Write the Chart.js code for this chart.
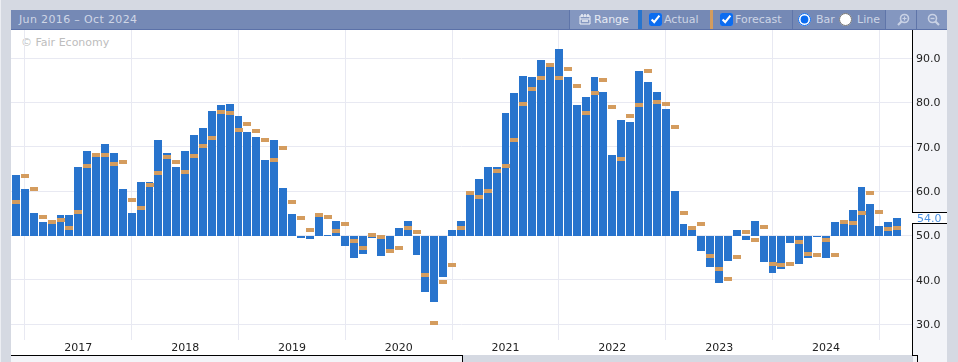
<!DOCTYPE html>
<html>
<head>
<meta charset="utf-8">
<title>Jun 2016 – Oct 2024</title>
<script src="https://cdn.jsdelivr.net/npm/chart.js@4"></script>
<style>
  html, body { margin: 0; padding: 0; }
  body { width: 958px; height: 362px; background: #d5d9e2; overflow: hidden; position: relative;
         font-family: "DejaVu Sans", sans-serif; font-size: 11px; }
  div, span, svg, input, canvas { position: absolute; }
  #edge { left: 0; top: 0; width: 1px; height: 362px; background: #eceef3; }
  #plotbg { left: 11px; top: 30px; width: 901px; height: 325px; background: #fff; }
  #axisbg { left: 913px; top: 30px; width: 34px; height: 332px; background: #f3f4f8; }
  #under { left: 11px; top: 356px; width: 451px; height: 6px; background: #f3f4f8; }
  .black { background: #000; }
  #header { left: 11px; top: 10px; width: 936px; height: 19px; background: #7589b5; border-bottom: 1px solid #5b71a8; }
  #header span { top: 3px; line-height: 14px; color: #cdd5e6; white-space: nowrap; }
  .sep { top: 0; width: 1px; height: 19px; background: #5f75a9; }
  .btn { top: 0; height: 19px; background: #8497c0; }
  #header input { margin: 0; top: 3px; width: 13px; height: 13px; accent-color: #0b6cf0; }
  #watermark { left: 21px; top: 36px; color: #bdbdbd; line-height: 14px; }
  canvas { left: 11px; top: 30px; }
</style>
</head>
<body>
<div id="edge"></div>
<div id="plotbg"></div>
<div id="axisbg"></div>
<div id="under"></div>
<div class="black" style="left:912px;top:30px;width:1px;height:326px"></div>
<div class="black" style="left:11px;top:355px;width:452px;height:1px"></div>
<div class="black" style="left:462px;top:355px;width:1px;height:7px"></div>
<div class="black" style="left:912px;top:355px;width:6px;height:1px"></div>
<div class="black" style="left:917px;top:355px;width:1px;height:7px"></div>
<div id="watermark">© Fair Economy</div>

<div id="header">
  <span style="left:8px;color:#cfd6e6;letter-spacing:.35px">Jun 2016 – Oct 2024</span>
  <div class="btn" style="left:558px;width:69px"></div>
  <div class="sep" style="left:558px"></div>
  <svg style="left:568px;top:3px" width="12" height="12" viewBox="0 0 12 12">
    <path d="M1 3h10v8H1z M1 6h10" fill="none" stroke="#eef1f7" stroke-width="1"/>
    <path d="M3 1v3 M6 1v3 M9 1v3" stroke="#eef1f7" stroke-width="1.4"/>
    <path d="M3 8h6" stroke="#eef1f7" stroke-width="1.5"/>
  </svg>
  <span style="left:583px;color:#e6eaf3">Range</span>
  <div style="left:627px;top:0;width:4px;height:19px;background:#2874cd"></div>
  <input type="checkbox" checked style="left:638px">
  <span style="left:653px">Actual</span>
  <div style="left:699px;top:0;width:3px;height:19px;background:#d49c5e"></div>
  <input type="checkbox" checked style="left:709px">
  <span style="left:724px">Forecast</span>
  <div class="sep" style="left:781px"></div>
  <input type="radio" name="kind" checked style="left:787px">
  <span style="left:805px">Bar</span>
  <input type="radio" name="kind" style="left:828px">
  <span style="left:846px">Line</span>
  <div class="btn" style="left:875px;width:61px"></div>
  <div class="sep" style="left:874px"></div>
  <div class="sep" style="left:905px"></div>
  <svg style="left:886px;top:3px" width="13" height="13" viewBox="0 0 13 13">
    <circle cx="7.5" cy="5.5" r="4" fill="none" stroke="#c9d2e5" stroke-width="1.6"/>
    <path d="M4.5 8.5L1 12" stroke="#c9d2e5" stroke-width="2.2"/>
    <path d="M5.5 5.5h4 M7.5 3.5v4" stroke="#c9d2e5" stroke-width="1.2"/>
  </svg>
  <svg style="left:916px;top:3px" width="13" height="13" viewBox="0 0 13 13">
    <circle cx="5.5" cy="5.5" r="4" fill="none" stroke="#c9d2e5" stroke-width="1.6"/>
    <path d="M8.5 8.5L12 12" stroke="#c9d2e5" stroke-width="2.2"/>
    <path d="M3.5 5.5h4" stroke="#c9d2e5" stroke-width="1.4"/>
  </svg>
</div>

<canvas id="chart" width="936" height="325"></canvas>

<script>
// monthly readings from Jun 2016 to Sep 2024, one per bar
const actual = [
  63.6, 60.5, 55.1, 53.0, 52.6, 54.6, 54.6, 65.4, 69.1, 68.2,
  70.6, 68.6, 60.5, 55.1, 62.1, 62.1, 71.5, 68.6, 65.4, 69.1,
  72.7, 74.2, 78.1, 79.4, 79.6, 76.9, 73.3, 72.2, 67.0, 71.5,
  60.7, 54.8, 49.4, 49.2, 54.1, 50.2, 53.2, 47.6, 44.9, 45.8,
  49.4, 45.3, 46.6, 51.7, 53.2, 45.6, 37.2, 35.0, 40.6, 51.2,
  53.3, 59.3, 62.8, 65.5, 65.5, 77.7, 82.2, 86.0, 85.8, 89.6,
  88.0, 92.1, 85.8, 79.5, 81.3, 85.8, 82.4, 68.2, 76.1, 75.6,
  87.1, 84.7, 82.4, 78.6, 60.1, 52.6, 51.2, 46.5, 42.9, 39.2,
  44.2, 51.2, 48.9, 53.2, 44.0, 41.5, 42.4, 48.3, 43.5, 44.9,
  49.6, 44.9, 53.0, 53.0, 55.7, 60.9, 57.1, 52.1, 53.0, 54.0
];
const forecast = [
  57.6, 63.4, 60.5, 54.2, 53.0, 53.5, 51.7, 55.3, 65.7, 68.2,
  68.2, 66.1, 66.6, 58.0, 56.2, 61.4, 64.1, 67.7, 66.6, 64.3,
  67.9, 70.2, 72.0, 77.8, 77.6, 73.8, 75.1, 73.6, 71.5, 67.0,
  69.7, 57.5, 53.9, 51.2, 54.6, 54.1, 51.0, 52.6, 48.7, 47.2,
  50.1, 49.6, 46.5, 47.1, 51.7, 50.8, 41.1, 30.2, 39.5, 43.3,
  51.7, 59.6, 58.7, 60.1, 64.6, 65.7, 71.6, 79.7, 83.1, 85.6,
  88.5, 85.6, 87.6, 83.8, 77.7, 82.2, 85.1, 79.0, 67.3, 77.0,
  79.5, 87.1, 80.2, 79.7, 74.5, 55.1, 51.7, 52.6, 45.3, 42.4,
  40.2, 45.1, 50.8, 48.9, 51.9, 43.5, 43.3, 43.5, 48.5, 45.8,
  45.6, 48.9, 45.6, 53.0, 52.8, 55.0, 59.5, 55.3, 51.4, 51.7
];
const yearLabels = ["2017", "2018", "2019", "2020", "2021", "2022", "2023", "2024"];
const yearPositions = [7, 19, 31, 43, 55, 67, 79, 91];
const valueTicks = [30, 40, 50, 60, 70, 80, 90];
const baseline = 50;

const BAR_COLOR = "#2874cd";
const FORECAST_COLOR = "#d49c5e";

// the forecast dash is a point style, 8 by 4 px
const dash = document.createElement("canvas");
dash.width = 8;
dash.height = 4;
const dashCtx = dash.getContext("2d");
dashCtx.fillStyle = FORECAST_COLOR;
dashCtx.fillRect(0, 0, 8, 4);

// snap the marks to whole pixels, the original is drawn without antialiasing
// and always leaves a 1px gap between bars, so some of them come out 7px wide
const snapPlugin = {
  id: "snap",
  beforeDatasetDraw(chart, args) {
    const lefts = args.meta.data.map((el) => Math.round(el.x - 4));
    args.meta.data.forEach((el, i) => {
      el.y = Math.round(el.y);
      if (el.base !== undefined) {
        const w = i + 1 < lefts.length ? Math.min(8, lefts[i + 1] - lefts[i] - 1) : 8;
        el.width = w;
        el.x = lefts[i] + w / 2;
        el.base = el.y < el.base ? Math.ceil(el.base) : Math.floor(el.base);
      } else {
        el.x = lefts[i] + 4;
      }
    });
  }
};

// last actual value marked on the axis
const lastValuePlugin = {
  id: "lastValue",
  afterDraw(chart) {
    const ctx = chart.ctx;
    const last = actual[actual.length - 1];
    const y = Math.round(chart.scales.y.getPixelForValue(last));
    const x = chart.chartArea.right;
    ctx.save();
    ctx.fillStyle = "#fff";
    ctx.fillRect(x, y - 6, 36, 12);
    ctx.fillStyle = "#000";
    ctx.fillRect(x, y - 6, 35, 1);
    ctx.fillRect(x, y + 5, 35, 1);
    ctx.fillStyle = "#4a90e2";
    ctx.font = "11px 'DejaVu Sans'";
    ctx.textBaseline = "middle";
    ctx.fillText(last.toFixed(1), x + 5, y + 1);
    ctx.restore();
  }
};

new Chart(document.getElementById("chart"), {
  type: "bar",
  data: {
    datasets: [
      {
        type: "line",
        label: "Forecast",
        data: forecast.map((v, i) => ({ x: i, y: v })),
        showLine: false,
        pointStyle: dash,
        pointRadius: 4,
        order: 0
      },
      {
        label: "Actual",
        data: actual.map((v, i) => ({ x: i, y: v })),
        base: baseline,
        backgroundColor: BAR_COLOR,
        barThickness: 8,
        inflateAmount: 0,
        order: 1
      }
    ]
  },
  options: {
    responsive: false,
    animation: false,
    layout: { padding: 0, autoPadding: false },
    plugins: { legend: { display: false }, tooltip: { enabled: false } },
    scales: {
      x: {
        type: "linear",
        min: -0.565,
        max: 100.671,
        offset: false,
        afterBuildTicks(axis) {
          axis.ticks = yearPositions.map((v) => ({ value: v }));
        },
        afterFit(axis) {
          axis.height = 15;
          axis.paddingLeft = axis.paddingRight = 0;
        },
        grid: { color: "#e8e9f2", drawTicks: false },
        border: { display: false },
        ticks: {
          autoSkip: false,
          maxRotation: 0,
          padding: 2,
          color: "#222",
          font: { family: "DejaVu Sans", size: 11 },
          callback: (v, i) => yearLabels[i]
        }
      },
      y: {
        position: "right",
        min: 26.44,
        max: 96.34,
        afterBuildTicks(axis) {
          axis.ticks = valueTicks.map((v) => ({ value: v }));
        },
        afterFit(axis) {
          axis.width = 35;
          axis.paddingTop = axis.paddingBottom = 0;
        },
        grid: { color: "#e8e9f2", drawTicks: false },
        border: { display: false },
        ticks: {
          padding: 4,
          labelOffset: 1,
          color: "#222",
          font: { family: "DejaVu Sans", size: 11 },
          callback: (v) => v.toFixed(1)
        }
      }
    }
  },
  plugins: [snapPlugin, lastValuePlugin]
});
</script>
</body>
</html>
